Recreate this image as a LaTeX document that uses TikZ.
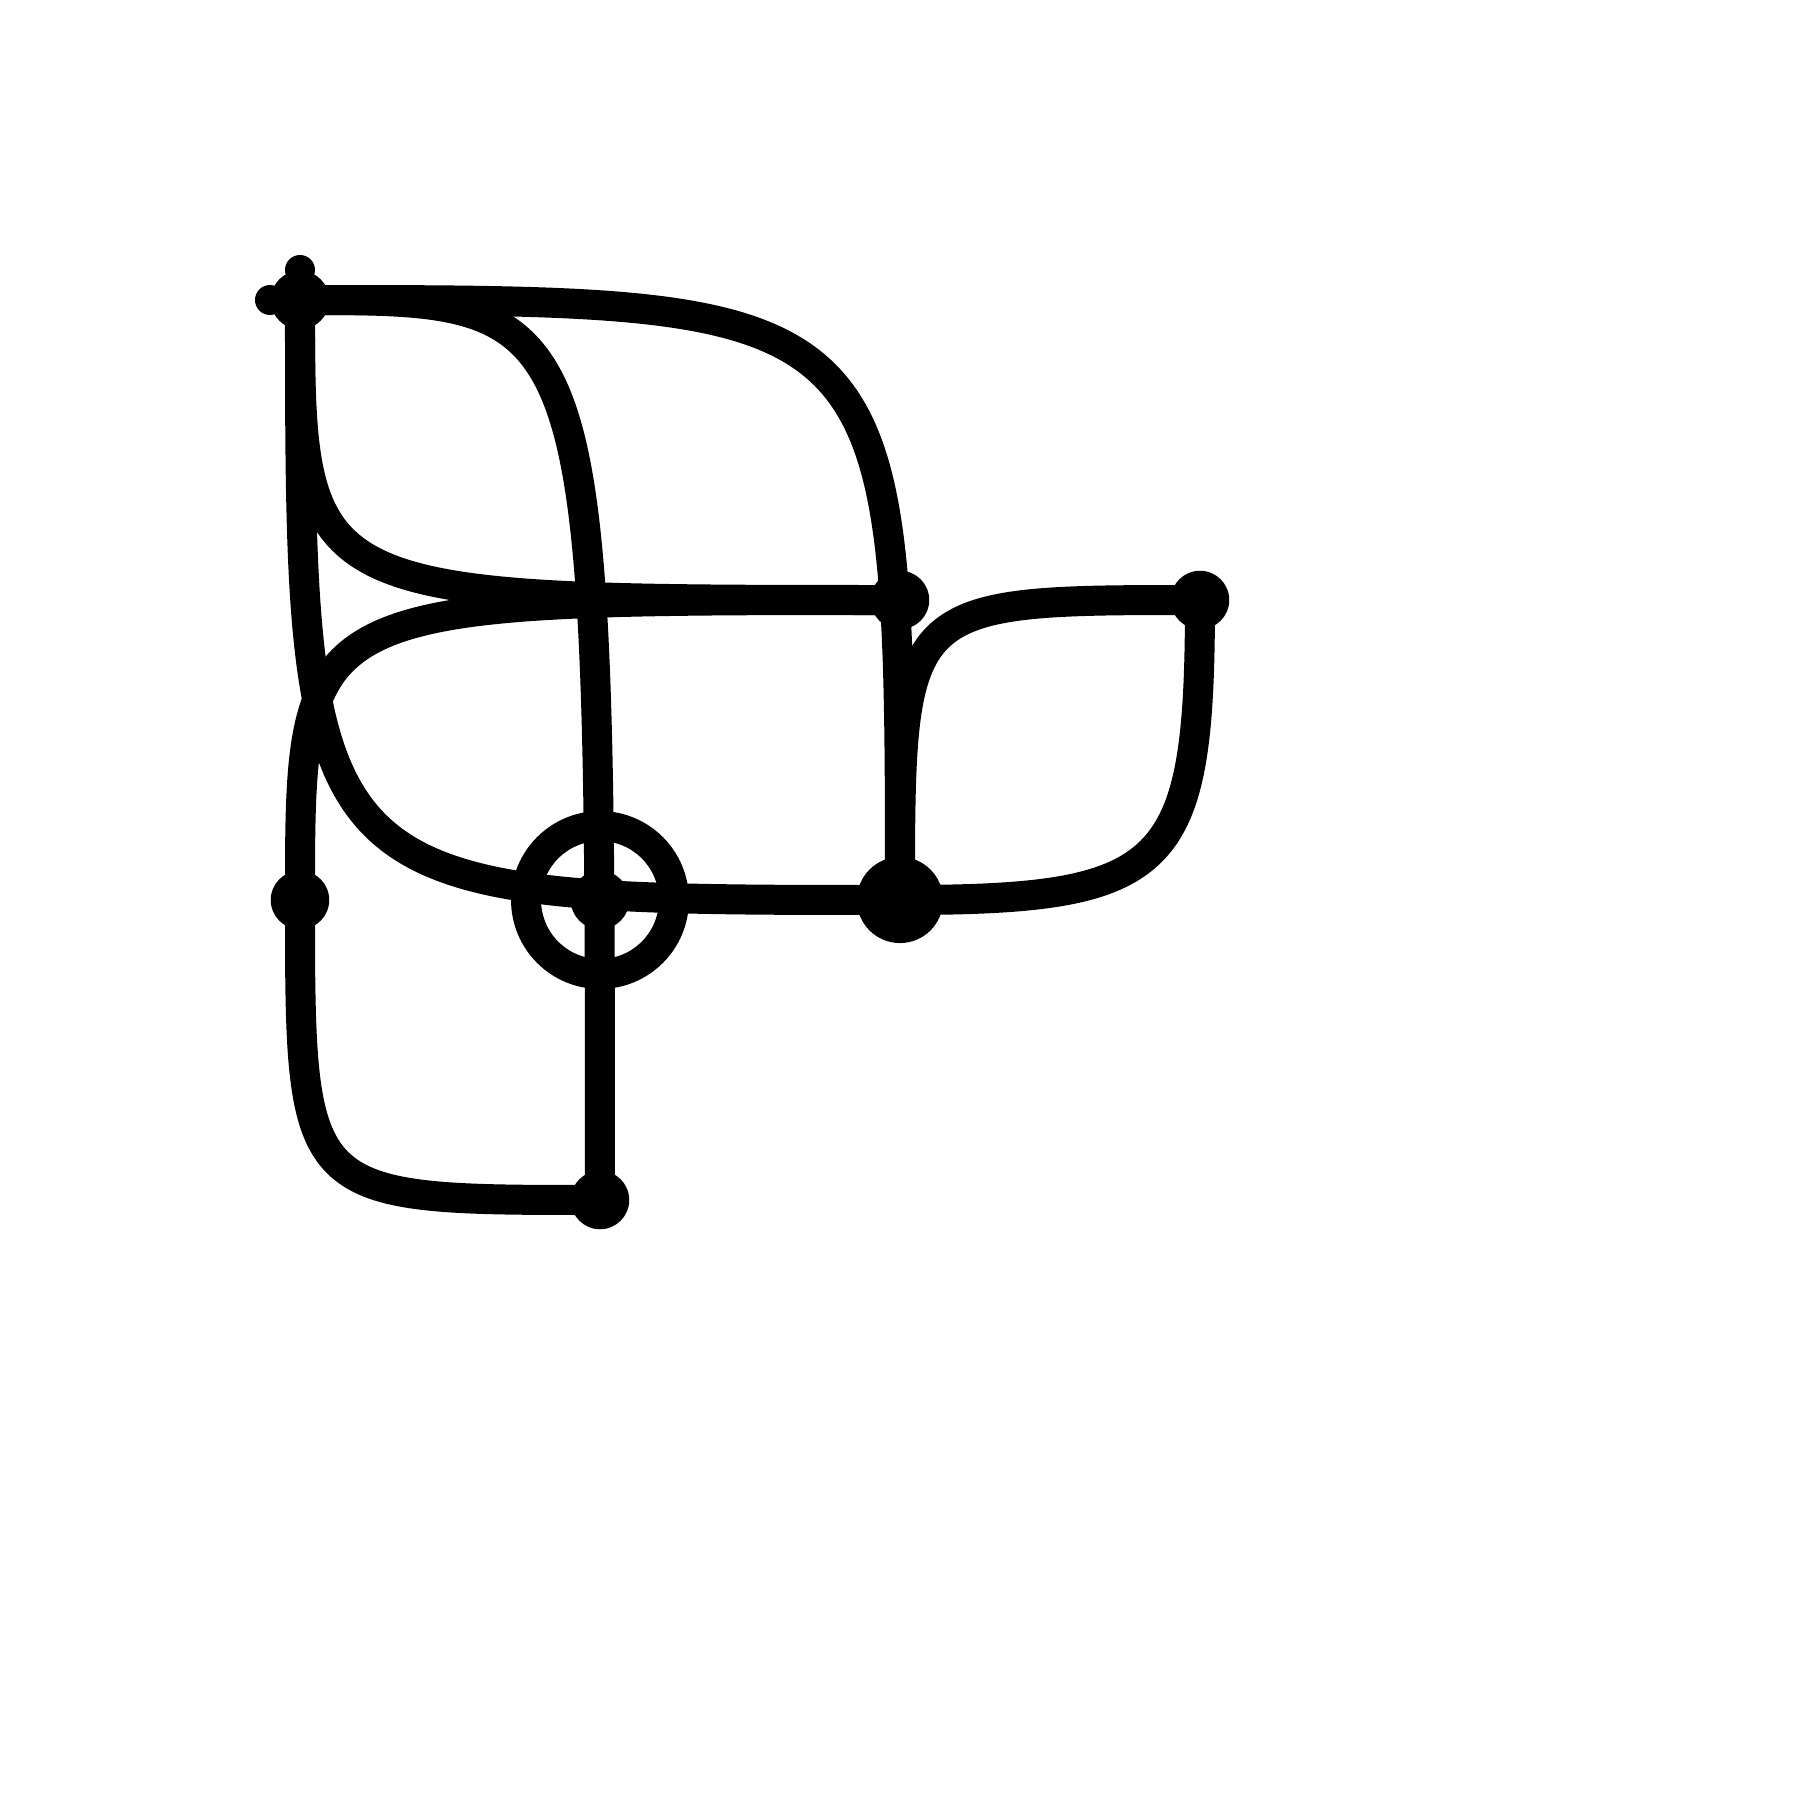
\documentclass[tikz,border=0pt]{standalone}
\usetikzlibrary{positioning, backgrounds}
\tikzset{dot/.style = {circle, fill=black, inner sep=0pt, outer sep=0pt, minimum size=0.195cm}}
\tikzset{bigdot/.style = {dot, minimum size=0.287cm}}
\tikzset{tinydot/.style = {dot, minimum size=0.1cm}}
\tikzset{ring/.style = {circle, draw=black, line width=0.1cm, inner sep=0pt, minimum size=0.493cm}}
\tikzset{link/.style = {draw=black, line width=0.1cm}}

\begin{document}
\begin{tikzpicture}[node distance=1cm, on grid]
\useasboundingbox (-1,1) rectangle (5,-5);
\node [dot] (A) at (0,0) {};
\node [tinydot] (Atop) [above=0.1cm of A] {};
\node [tinydot] (Aleft) [left=0.1cm of A] {};
\node [dot] (B) [below right=1cm and 2cm of A] {};
\node [dot] (C) [right=of B] {};
\node [dot] (D) [below=2cm of A] {};
\node [dot] (E) [right=of D] {};
\node [ring] (Ering) at (E) {};
\node [bigdot] (F) [right=of E] {};
\node [dot] (G) [below=of E] {};

\begin{scope}[on background layer]
\draw [link] (A.center) .. controls (F |- A) .. (F.center);
\draw [link] (A.center) .. controls (G |- A) .. (G.center);
\draw [link] (A.center) .. controls (A |- B) .. (B.center);
\draw [link] (A.center) .. controls (A |- F) .. (F.center);
\draw [link] (C.center) .. controls (F |- C) .. (F.center);
\draw [link] (C.center) .. controls +(0,-0.9) and +(0.9,0) .. (F.center);
\draw [link] (D.center) .. controls (D |- B) .. (B.center);
\draw [link] (D.center) .. controls (D |- G) .. (G.center);
\end{scope}
\end{tikzpicture}
\end{document}
